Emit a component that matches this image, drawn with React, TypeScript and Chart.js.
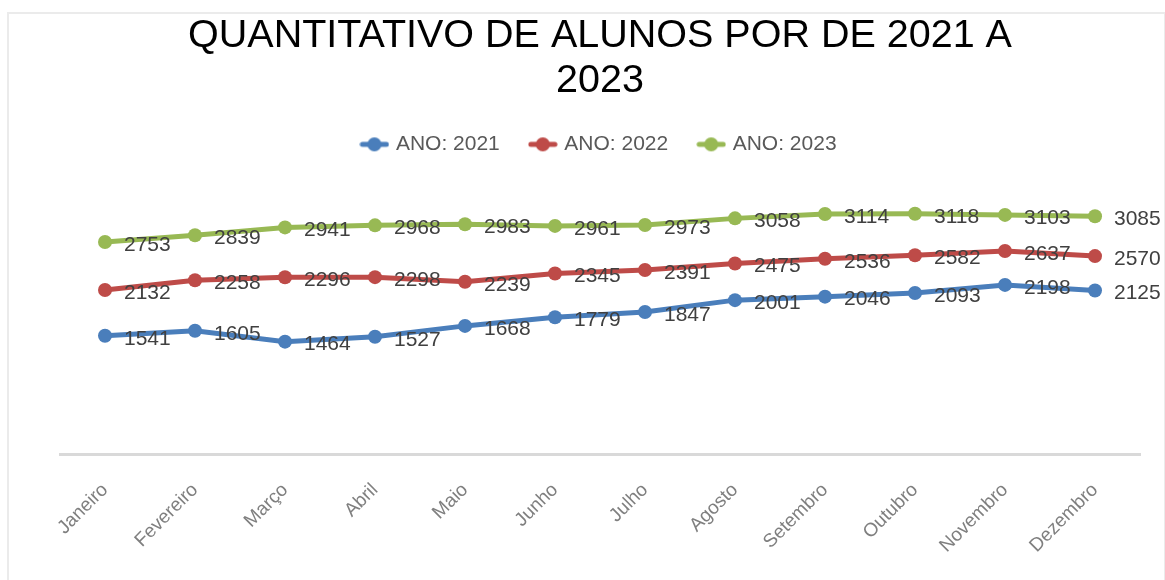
import React, { useEffect, useRef } from "react";
import { Chart, registerables } from "chart.js";

Chart.register(...registerables);

const months = ["Janeiro", "Fevereiro", "Março", "Abril", "Maio", "Junho", "Julho", "Agosto", "Setembro", "Outubro", "Novembro", "Dezembro"];
const values2021 = [1541, 1605, 1464, 1527, 1668, 1779, 1847, 2001, 2046, 2093, 2198, 2125];
const values2022 = [2132, 2258, 2296, 2298, 2239, 2345, 2391, 2475, 2536, 2582, 2637, 2570];
const values2023 = [2753, 2839, 2941, 2968, 2983, 2961, 2973, 3058, 3114, 3118, 3103, 3085];
const seriesNames = ["ANO: 2021", "ANO: 2022", "ANO: 2023"];
const colors = ["#4A7EBB", "#BE4B48", "#98B954"];
const titleLines = ["QUANTITATIVO DE ALUNOS POR DE 2021 A", "2023"];

function legendMarker(color: string): HTMLCanvasElement {
  const c = document.createElement("canvas");
  c.width = 30;
  c.height = 16;
  const ctx = c.getContext("2d")!;
  ctx.strokeStyle = color;
  ctx.lineWidth = 5;
  ctx.lineCap = "round";
  ctx.beginPath();
  ctx.moveTo(3, 8);
  ctx.lineTo(27, 8);
  ctx.stroke();
  ctx.fillStyle = color;
  ctx.beginPath();
  ctx.arc(15, 8, 7, 0, Math.PI * 2);
  ctx.fill();
  return c;
}

const dataLabels = {
  id: "dataLabels",
  afterDatasetsDraw(chart: any) {
    const ctx = chart.ctx;
    ctx.save();
    ctx.font = "21px 'Liberation Sans', Arial, sans-serif";
    ctx.fillStyle = "#404040";
    ctx.textAlign = "left";
    ctx.textBaseline = "middle";
    chart.data.datasets.forEach((ds: any, i: number) => {
      const meta = chart.getDatasetMeta(i);
      meta.data.forEach((pt: any, j: number) => {
        ctx.fillText(String(ds.data[j]), pt.x + 19, pt.y + 3);
      });
    });
    ctx.restore();
  },
};

export default function App() {
  const ref = useRef<HTMLCanvasElement>(null);
  useEffect(() => {
    const series = [values2021, values2022, values2023];
    const chart = new Chart(ref.current!, {
      type: "line",
      data: {
        labels: months,
        datasets: series.map((d, i) => ({
          label: seriesNames[i],
          data: d,
          borderColor: colors[i],
          backgroundColor: colors[i],
          borderWidth: 5,
          pointRadius: 7,
          pointBorderWidth: 0,
          tension: 0,
        })),
      },
      options: {
        animation: false,
        responsive: false,
        layout: { padding: { left: 60, right: 25, top: 0, bottom: 7 } },
        elements: { point: { pointStyle: "circle" } },
        plugins: {
          title: {
            display: true,
            text: titleLines,
            color: "#000000",
            font: { family: "'Liberation Sans', Arial, sans-serif", size: 39.5, weight: "normal", lineHeight: 1.15 },
            padding: { top: 13, bottom: -2 },
          },
          legend: {
            display: true,
            labels: {
              usePointStyle: true,
              pointStyleWidth: 22,
              boxHeight: 16,
              color: "#595959",
              font: { family: "'Liberation Sans', Arial, sans-serif", size: 21 },
              padding: 32,
              generateLabels: (ch: any) =>
                ch.data.datasets.map((ds: any, i: number) => ({
                  text: ds.label,
                  fillStyle: colors[i],
                  strokeStyle: colors[i],
                  lineWidth: 0,
                  pointStyle: legendMarker(colors[i]),
                  datasetIndex: i,
                  hidden: false,
                  fontColor: "#595959",
                })),
            },
          },
          tooltip: { enabled: false },
        },
        scales: {
          x: {
            offset: true,
            grid: { display: false },
            border: { display: true, color: "#D9D9D9", width: 3 },
            ticks: {
              color: "#7F7F7F",
              font: { family: "'Liberation Sans', Arial, sans-serif", size: 19 },
              minRotation: 45,
              maxRotation: 45,
              padding: 16,
            },
          },
          y: {
            display: false,
            min: 0,
            max: 3750,
          },
        },
      },
      plugins: [dataLabels],
    });
    return () => chart.destroy();
  }, []);
  return (
    <div style={{ position: "absolute", left: 0, top: 0, width: 1165, height: 580, overflow: "hidden", background: "#fff" }}>
      <div style={{ position: "absolute", left: 7, top: 12, width: 1155, height: 600, border: "2px solid #EBEBEB" }} />
      <canvas ref={ref} width={1165} height={580} style={{ position: "absolute", left: 0, top: 0 }} />
    </div>
  );
}
